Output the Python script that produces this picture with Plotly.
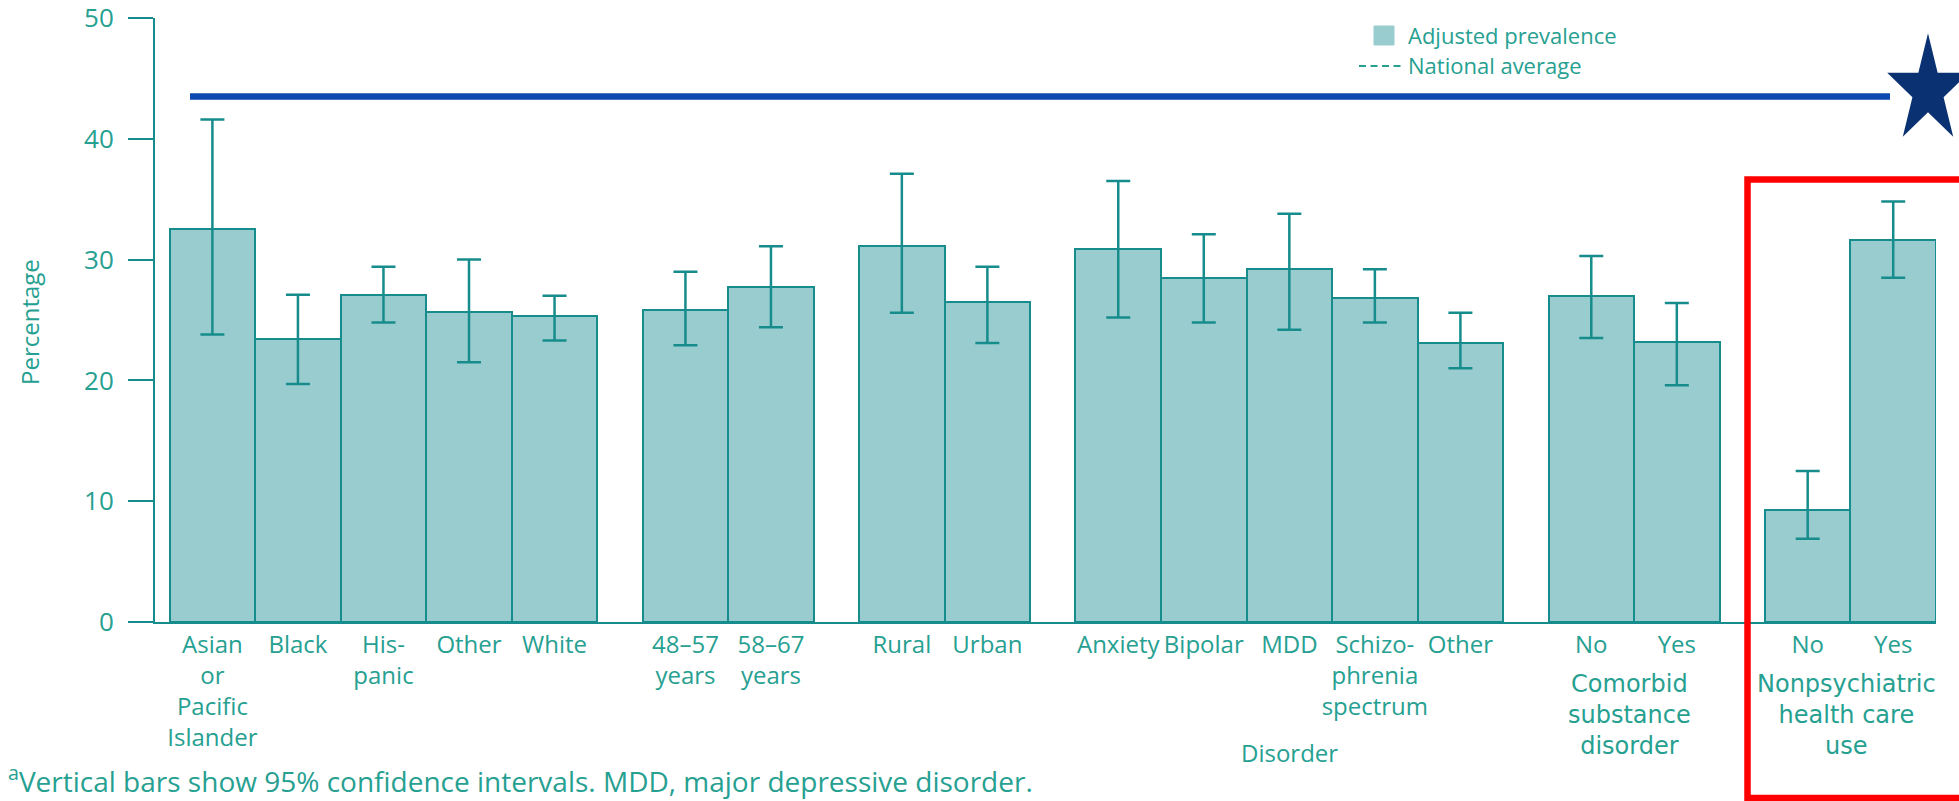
import math
import plotly.graph_objects as go

# ---------------- data ----------------
groups = [
    ["Asian<br>or<br>Pacific<br>Islander", "Black", "His-<br>panic", "Other", "White"],
    ["48–57<br>years", "58–67<br>years"],
    ["Rural", "Urban"],
    ["Anxiety", "Bipolar", "MDD", "Schizo-<br>phrenia<br>spectrum", "Other"],
    ["No", "Yes"],
    ["No", "Yes"],
]
group_titles = ["", "", "", "Disorder",
                "Comorbid<br>substance<br>disorder",
                "Nonpsychiatric<br>health care<br>use"]

prevalence = [32.5, 23.4, 27.1, 25.7, 25.3,
              25.8, 27.7,
              31.1, 26.5,
              30.9, 28.5, 29.2, 26.8, 23.1,
              27.0, 23.2,
              9.3, 31.6]
ci_upper = [41.6, 27.1, 29.4, 30.0, 27.0,
            29.0, 31.1,
            37.1, 29.4,
            36.5, 32.1, 33.8, 29.2, 25.6,
            30.3, 26.4,
            12.5, 34.8]
ci_lower = [23.8, 19.7, 24.8, 21.5, 23.3,
            22.9, 24.4,
            25.6, 23.1,
            25.2, 24.8, 24.2, 24.8, 21.0,
            23.5, 19.6,
            6.9, 28.5]
national_average = 43.5
y_ticks = [0, 10, 20, 30, 40, 50]
legend_labels = ["Adjusted prevalence", "National average"]
y_title = "Percentage"
footnote = "<sup>a</sup>Vertical bars show 95% confidence intervals. MDD, major depressive disorder."

# ---------------- styling / layout ----------------
W, H = 1959, 801
ML, MR, MT, MB = 155, 23, 18, 179
PW, PH = W - ML - MR, H - MT - MB
GAP = 0.53

TEAL_TXT = "#26a091"
TEAL_LINE = "#178c8c"
BAR_FILL = "#99cccf"
BLUE = "#0d47b0"
NAVY = "#0a3273"
FONT = "Open Sans"


def px(X):
    return (X - ML) / PW


def py(Y):
    return (H - MB - Y) / PH


# positions of bars computed from the group structure
x_pos, labels, group_centers = [], [], []
start = 0.0
for g in groups:
    centers = [start + 0.5 + i for i in range(len(g))]
    x_pos += centers
    labels += g
    group_centers.append(start + len(g) / 2)
    start += len(g) + GAP
x_end = start - GAP
x_start = -0.171

err_plus = [u - v for u, v in zip(ci_upper, prevalence)]
err_minus = [v - l for v, l in zip(prevalence, ci_lower)]

fig = go.Figure()
fig.add_trace(go.Bar(
    x=x_pos, y=prevalence, width=1.0,
    name=legend_labels[0],
    marker=dict(color=BAR_FILL, line=dict(color=TEAL_LINE, width=2)),
    error_y=dict(type="data", symmetric=False, array=err_plus,
                 arrayminus=err_minus, color=TEAL_LINE, thickness=2.5, width=12),
    showlegend=False,
))

shapes = []
# national average (highlighted)
shapes.append(dict(type="line", xref="paper", yref="y",
                   x0=px(190), x1=px(1890), y0=national_average, y1=national_average,
                   line=dict(color=BLUE, width=6.5)))

# star
cx, cy, R, sx = 1928, 90.5, 57.2, 0.75
pts = []
for k in range(10):
    a = math.radians(-90 + 36 * k)
    rad = R if k % 2 == 0 else R * 0.382
    pts.append((px(cx + sx * rad * math.cos(a)), py(cy + rad * math.sin(a))))
path = "M " + " L ".join(f"{x:.5f},{y:.5f}" for x, y in pts) + " Z"
shapes.append(dict(type="path", xref="paper", yref="paper", path=path,
                   fillcolor=NAVY, line=dict(color=NAVY, width=0)))

# red highlight box
shapes.append(dict(type="rect", xref="paper", yref="paper",
                   x0=px(1747.5), x1=px(1995), y0=py(179.5), y1=py(798),
                   line=dict(color="#ff0000", width=6.5), fillcolor="rgba(0,0,0,0)"))

# manual legend
shapes.append(dict(type="rect", xref="paper", yref="paper",
                   x0=px(1374), x1=px(1394), y0=py(26), y1=py(45),
                   fillcolor=BAR_FILL, line=dict(color=BAR_FILL, width=1)))
shapes.append(dict(type="line", xref="paper", yref="paper",
                   x0=px(1359), x1=px(1401), y0=py(66), y1=py(66),
                   line=dict(color=TEAL_TXT, width=2, dash="7px,4.5px")))

annotations = []
annotations.append(dict(text=legend_labels[0], xref="paper", yref="paper",
                        x=px(1406), y=py(35), xanchor="left", yanchor="middle",
                        showarrow=False, font=dict(family=FONT, size=22, color=TEAL_TXT)))
annotations.append(dict(text=legend_labels[1], xref="paper", yref="paper",
                        x=px(1406), y=py(65), xanchor="left", yanchor="middle",
                        showarrow=False, font=dict(family=FONT, size=22, color=TEAL_TXT)))

# y-axis title
annotations.append(dict(text=y_title, xref="paper", yref="paper",
                        x=px(29), y=py(322), textangle=-90,
                        xanchor="center", yanchor="middle", showarrow=False,
                        font=dict(family=FONT, size=24, color=TEAL_TXT)))

# group titles
for title, gc in zip(group_titles, group_centers):
    if not title:
        continue
    if "<br>" in title:
        annotations.append(dict(text=title, xref="x", yref="paper",
                                x=gc - 0.05, y=py(715), xanchor="center", yanchor="middle",
                                showarrow=False,
                                font=dict(family="DejaVu Sans", size=24, color=TEAL_TXT)))
    else:
        annotations.append(dict(text=title, xref="x", yref="paper",
                                x=gc, y=py(752), xanchor="center", yanchor="middle",
                                showarrow=False,
                                font=dict(family=FONT, size=24, color=TEAL_TXT)))

# footnote
annotations.append(dict(text=footnote, xref="paper", yref="paper",
                        x=px(6), y=py(757), xanchor="left", yanchor="top",
                        showarrow=False,
                        font=dict(family=FONT, size=28, color=TEAL_TXT)))

fig.update_layout(
    width=W, height=H, autosize=False,
    margin=dict(l=ML, r=MR, t=MT, b=MB, pad=0, autoexpand=False),
    paper_bgcolor="white", plot_bgcolor="white",
    font=dict(family=FONT, color=TEAL_TXT),
    bargap=0,
    showlegend=False,
    shapes=shapes,
    annotations=annotations,
    xaxis=dict(range=[x_start, x_end], tickvals=x_pos, ticktext=labels,
               tickangle=0, automargin=False,
               showline=True, linecolor=TEAL_LINE, linewidth=2,
               ticks="", showgrid=False, zeroline=False,
               tickfont=dict(family=FONT, size=24, color=TEAL_TXT)),
    yaxis=dict(range=[0, 50], tickvals=y_ticks, automargin=False,
               showline=True, linecolor=TEAL_LINE, linewidth=2,
               ticks="outside", ticklen=25, tickwidth=2, tickcolor=TEAL_LINE,
               ticklabelstandoff=9, ticklabeloverflow="allow",
               showgrid=False, zeroline=False,
               tickfont=dict(family=FONT, size=26, color=TEAL_TXT)),
)

fig.write_html("out.html")
